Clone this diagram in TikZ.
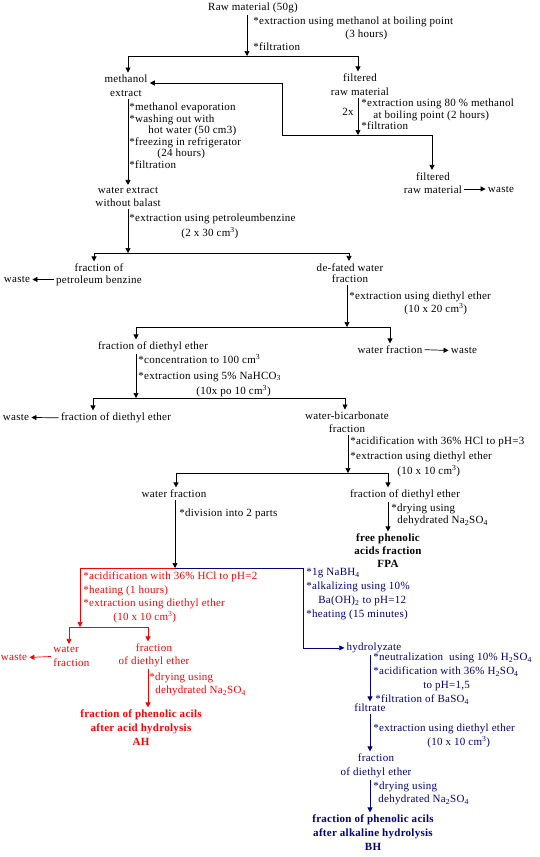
\documentclass[tikz,border=0pt]{standalone}
\usepackage{fontspec}
\setmainfont{Liberation Serif}[LetterSpace=2.5]
\usetikzlibrary{arrows.meta}
\definecolor{navy}{RGB}{0,0,128}

\tikzset{
  stage/.style={anchor=base, align=center, inner sep=2pt, font=\fontsize{11}{#1}\selectfont},
  stage/.default=13,
  note/.style={anchor=base west, align=left, inner sep=0pt, font=\fontsize{11}{#1}\selectfont},
  note/.default=13,
  result/.style={anchor=base, align=center, inner sep=2pt, font=\fontsize{11}{#1}\selectfont\bfseries},
  result/.default=14,
  arr/.style={-{Triangle[length=5pt,width=5pt]}}
}

\begin{document}
\begin{tikzpicture}[x=1pt, y=-1pt, line width=0.7pt]
  \useasboundingbox (0,0) rectangle (540,857);

  % methanol extraction
  \node[stage] (raw) at (253,10.5) {Raw material (50g)};
  \node[note] (a1) at (253,50.5) {*extraction using methanol at boiling point\\\hspace*{92pt}(3 hours)\\*filtration};
  \node[stage=14] (meth) at (126,96.5) {methanol\\extract};
  \node[stage=14] (filt1) at (360,95.5) {filtered\\raw material};
  \node[note, anchor=base east] (twox) at (354,115.5) {2x};
  \node[note=11.5] (a2) at (361,129.5) {*extraction using 80 \% methanol\\\hspace*{12pt}at boiling point (2 hours)\\*filtration};
  \node[stage] (filt2) at (433,193) {filtered\\raw material};
  \node[stage] (waste1) at (501,192) {waste};

  \coordinate (j1) at (247,56);
  \coordinate (j1l) at (128,56);
  \coordinate (j1r) at (358,56);
  \coordinate (j2) at (358,135);
  \coordinate (j2l) at (282,135);
  \coordinate (j2r) at (432,135);
  \coordinate (loop) at (282,83);

  \draw[arr] (raw.south -| j1) -- (j1);
  \draw (j1l) -- (j1r);
  \draw[arr] (j1l) -- (j1l |- meth.north);
  \draw[arr] (j1r) -- (j1r |- filt1.north);
  \draw[arr] (filt1.south -| j2) -- (j2);
  \draw (j2l) -- (j2r);
  \draw[arr] (j2l) -- (loop) -- (loop -| meth.east);
  \draw[arr] (j2r) -- (j2r |- filt2.north);
  \draw[arr] (waste1.west -| filt2.east) -- (waste1.west);

  % water extract and petroleum benzine
  \node[note=11.6] (a3) at (129,168.5) {*methanol evaporation\\*washing out with\\\hspace*{19pt}hot water (50 cm3)\\*freezing in refrigerator\\\hspace*{28pt}(24 hours)\\*filtration};
  \node[stage] (wext) at (128,206.5) {water extract\\without balast};
  \node[note=15] (a4) at (129,236.5) {*extraction using petroleumbenzine\\\hspace*{52pt}(2 x 30 cm\textsuperscript{3})};
  \node[stage=12] (pet) at (99,283.5) {fraction of\\petroleum benzine};
  \node[stage] (waste2) at (17,282.5) {waste};
  \node[stage=11.5] (defat) at (350,282.5) {de-fated water\\fraction};

  \coordinate (j3) at (128,253);
  \coordinate (j3l) at (94,253);
  \coordinate (j3r) at (349,253);

  \draw[arr] (meth.south -| j1l) -- (j1l |- wext.north);
  \draw[arr] (wext.south) -- (j3);
  \draw (j3l) -- (j3r);
  \draw[arr] (j3l) -- (j3l |- pet.north);
  \draw[arr] (j3r) -- (j3r |- defat.north);
  \draw[arr] (waste2.east -| pet.west) -- (waste2.east);

  % diethyl ether extraction
  \node[note] (a5) at (349,312.5) {*extraction using diethyl ether\\\hspace*{55pt}(10 x 20 cm\textsuperscript{3})};
  \node[stage] (dee1) at (153,349.5) {fraction of diethyl ether};
  \node[stage] (wfr1) at (390,353.5) {water fraction};
  \node[stage] (waste3) at (464,353.5) {waste};
  \node[note=15.5] (a6) at (138,394.5) {*concentration to 100 cm\textsuperscript{3}\\*extraction using 5\% NaHCO\textsubscript{3}\\\hspace*{58pt}(10x po 10 cm\textsuperscript{3})};
  \node[stage] (dee2) at (116,420.5) {fraction of diethyl ether};
  \node[stage] (waste4) at (16,420.5) {waste};
  \node[stage] (wbic) at (347,432.5) {water-bicarbonate\\fraction};

  \coordinate (j4) at (347,327);
  \coordinate (j4l) at (136,327);
  \coordinate (j4r) at (390,327);
  \coordinate (j5) at (136,398);
  \coordinate (j5l) at (93,398);
  \coordinate (j5r) at (345,398);

  \draw[arr] (defat.south -| j4) -- (j4);
  \draw (j4l) -- (j4r);
  \draw[arr] (j4l) -- (j4l |- dee1.north);
  \draw[arr] (j4r) -- (j4r |- wfr1.north);
  \draw[arr] (wfr1.east) -- (waste3.west);
  \draw[arr] (dee1.south -| j5) -- (j5);
  \draw (j5l) -- (j5r);
  \draw[arr] (j5l) -- (j5l |- dee2.north);
  \draw[arr] (j5r) -- (j5r |- wbic.north);
  \draw[arr] (dee2.west) -- (waste4.east);

  % acidification, free phenolic acids
  \node[note=15] (a7) at (350,474.5) {*acidification with 36\% HCl to pH=3\\*extraction using diethyl ether\\\hspace*{47pt}(10 x 10 cm\textsuperscript{3})};
  \node[stage] (wfr2) at (174,497.5) {water fraction};
  \node[stage] (dee3) at (405,497.5) {fraction of diethyl ether};
  \node[note] (a8) at (179,516.5) {*division into 2 parts};
  \node[note=12] (a9) at (391,523.5) {*drying using\\\hspace*{6pt}dehydrated Na\textsubscript{2}SO\textsubscript{4}};
  \node[result=13] (fpa) at (388,567.5) {free phenolic\\acids fraction\\FPA};

  \coordinate (j6) at (348,473);
  \coordinate (j6l) at (176,473);
  \coordinate (j6r) at (388,473);
  \coordinate (j7) at (175,568);

  \draw[arr] (wbic.south -| j6) -- (j6);
  \draw (j6l) -- (j6r);
  \draw[arr] (j6l) -- (j6l |- wfr2.north);
  \draw[arr] (j6r) -- (j6r |- dee3.north);
  \draw[arr] (dee3.south -| j6r) -- (j6r |- fpa.north);

  % acid hydrolysis
  \begin{scope}[red]
    \node[note=13.7] (a10) at (83,620.5) {*acidification with 36\% HCl to pH=2\\*heating (1 hours)\\*extraction using diethyl ether\\\hspace*{30pt}(10 x 10 cm\textsuperscript{3})};
    \node[stage=14, anchor=base west, align=left] (wfr3) at (51,666.5) {water\\fraction};
    \node[stage] (waste5) at (14,660.5) {waste};
    \node[stage] (dee4) at (154,664.5) {fraction\\of diethyl ether};
    \node[note] (a11) at (149,693.5) {*drying using\\\hspace*{6pt}dehydrated Na\textsubscript{2}SO\textsubscript{4}};
    \node[result] (ah) at (141,745.5) {fraction of phenolic acils\\after acid hydrolysis\\AH};

    \coordinate (j8) at (80,568);
    \coordinate (j10) at (80,627);
    \coordinate (j10l) at (69,627);
    \coordinate (j10r) at (148,627);

    \draw (j7) -- (j8);
    \draw[arr] (j8) -- (j10);
    \draw (j10l) -- (j10r);
    \draw[arr] (j10l) -- (j10l |- wfr3.north);
    \draw[arr] (j10r) -- (j10r |- dee4.north);
    \draw[arr] (wfr3.west) -- (waste5.east);
    \draw[arr] (dee4.south -| j10r) -- (j10r |- ah.north);
  \end{scope}

  % alkaline hydrolysis
  \begin{scope}[navy]
    \node[note=14] (a12) at (306,617.5) {*1g NaBH\textsubscript{4}\\*alkalizing using 10\%\\\hspace*{12pt}Ba(OH)\textsubscript{2} to pH=12\\*heating (15 minutes)};
    \node[stage] (hyd) at (374,650.5) {hydrolyzate};
    \node[note=14] (a13) at (373,702.5) {*neutralization~ using 10\% H\textsubscript{2}SO\textsubscript{4}\\*acidification with 36\% H\textsubscript{2}SO\textsubscript{4}\\\hspace*{50pt}to pH=1,5\\\hspace*{2pt}*filtration of BaSO\textsubscript{4}};
    \node[stage] (filtr) at (370,711.5) {filtrate};
    \node[note=14] (a14) at (373,745.5) {*extraction using diethyl ether\\\hspace*{54pt}(10 x 10 cm\textsuperscript{3})};
    \node[stage=14] (dee5) at (376,775.5) {fraction\\of diethyl ether};
    \node[note] (a15) at (373,802.5) {*drying using\\\hspace*{5pt}dehydrated Na\textsubscript{2}SO\textsubscript{4}};
    \node[result] (bh) at (373,850.5) {fraction of phenolic acils\\after alkaline hydrolysis\\BH};

    \coordinate (j9) at (303,568);

    \draw (j7) -- (j9);
    \draw[arr] (j9) |- (hyd.west);
    \draw[arr] (hyd.south -| filtr) -- (filtr.north);
    \draw[arr] (filtr.south) -- (filtr |- dee5.north);
    \draw[arr] (dee5.south -| filtr) -- (filtr |- bh.north);
  \end{scope}

  \draw[arr] (wfr2.south -| j7) -- (j7);
\end{tikzpicture}
\end{document}
